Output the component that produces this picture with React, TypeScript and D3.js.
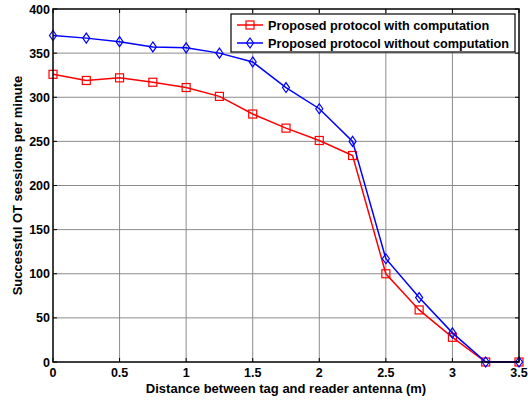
import React from "react";
import * as d3 from "d3";

const distances = [0, 0.25, 0.5, 0.75, 1, 1.25, 1.5, 1.75, 2, 2.25, 2.5, 2.75, 3, 3.25, 3.5];
const withComputation = [326, 319, 322, 317, 311, 301, 281, 265, 251, 234, 100, 59, 28, 0, 0];
const withoutComputation = [370, 367, 363, 357, 356, 350, 340, 311, 287, 250, 117, 73, 33, 0, 0];
const xTicks = [0, 0.5, 1, 1.5, 2, 2.5, 3, 3.5];
const yTicks = [0, 50, 100, 150, 200, 250, 300, 350, 400];
const seriesNames = ["Proposed protocol with computation", "Proposed protocol without computation"];

const W = 528, H = 400;
const L = 53, R = 519, T = 9, B = 362;

export default function App() {
  const x = d3.scaleLinear().domain([0, 3.5]).range([L, R]);
  const y = d3.scaleLinear().domain([0, 400]).range([B, T]);
  const line = d3.line<number>().x((_, i) => x(distances[i])).y((v) => y(v));
  const font = "'Liberation Sans', Arial, sans-serif";
  const tick = 4;
  const series = [
    { name: seriesNames[0], vals: withComputation, color: "#ff0000", marker: "square" },
    { name: seriesNames[1], vals: withoutComputation, color: "#0000ff", marker: "diamond" },
  ];
  const marker = (m: string, cx: number, cy: number, color: string, key: any) =>
    m === "square" ? (
      <rect key={key} x={cx - 4} y={cy - 4} width={8} height={8} fill="none" stroke={color} strokeWidth={1.2} />
    ) : (
      <path key={key} d={`M${cx},${cy - 5}L${cx + 3.5},${cy}L${cx},${cy + 5}L${cx - 3.5},${cy}Z`} fill="none" stroke={color} strokeWidth={1.2} />
    );
  return (
    <svg width={W} height={H} style={{ position: "absolute", left: 0, top: 0, background: "#fff" }} fontFamily={font} fontWeight="bold">
      <rect x={0} y={0} width={W} height={H} fill="#fff" />
      {/* grid */}
      {xTicks.slice(1, -1).map((t) => (
        <line key={"gx" + t} x1={x(t)} x2={x(t)} y1={T} y2={B} stroke="#8c8c8c" strokeWidth={1} />
      ))}
      {yTicks.slice(1, -1).map((t) => (
        <line key={"gy" + t} x1={L} x2={R} y1={y(t)} y2={y(t)} stroke="#8c8c8c" strokeWidth={1} />
      ))}
      {/* ticks */}
      {xTicks.map((t) => (
        <g key={"tx" + t}>
          <line x1={x(t)} x2={x(t)} y1={B} y2={B - tick} stroke="#000" />
          <line x1={x(t)} x2={x(t)} y1={T} y2={T + tick} stroke="#000" />
          <text x={x(t)} y={B + 15} textAnchor="middle" fontSize={12.5}>{t}</text>
        </g>
      ))}
      {yTicks.map((t) => (
        <g key={"ty" + t}>
          <line x1={L} x2={L + tick} y1={y(t)} y2={y(t)} stroke="#000" />
          <line x1={R} x2={R - tick} y1={y(t)} y2={y(t)} stroke="#000" />
          <text x={L - 3} y={y(t) + 4.5} textAnchor="end" fontSize={12.5}>{t}</text>
        </g>
      ))}
      {/* series */}
      {series.map((s, si) => (
        <g key={"s" + si}>
          <path d={line(s.vals) || ""} fill="none" stroke={s.color} strokeWidth={1.5} />
          {s.vals.map((v, i) => marker(s.marker, x(distances[i]), y(v), s.color, i))}
        </g>
      ))}
      {/* frame */}
      <rect x={L} y={T} width={R - L} height={B - T} fill="none" stroke="#000" strokeWidth={1.5} />
      {/* axis titles */}
      <text x={(L + R) / 2} y={393} textAnchor="middle" fontSize={13}>Distance between tag and reader antenna (m)</text>
      <text transform={`translate(22,${(T + B) / 2}) rotate(-90)`} textAnchor="middle" fontSize={13}>Successful OT sessions per minute</text>
      {/* legend */}
      <g>
        <rect x={231} y={14} width={284} height={38} fill="#fff" stroke="#000" strokeWidth={1.2} />
        {series.map((s, i) => {
          const ly = 25 + i * 18;
          return (
            <g key={"l" + i}>
              <line x1={237} x2={263} y1={ly} y2={ly} stroke={s.color} strokeWidth={1.5} />
              {marker(s.marker, 250, ly, s.color, "m")}
              <text x={268} y={ly + 4.5} fontSize={12.7}>{s.name}</text>
            </g>
          );
        })}
      </g>
    </svg>
  );
}
